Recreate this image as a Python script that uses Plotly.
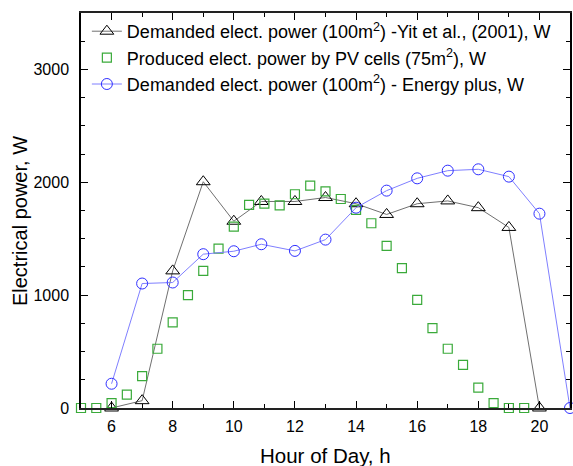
import plotly.graph_objects as go

# Demanded elect. power (Yit et al., 2001)
yit_hours = [6, 7, 8, 9, 10, 10.9, 12, 13, 14, 15, 16, 17, 18, 19, 20]
yit_power = [0, 65, 1215, 2005, 1655, 1830, 1830, 1865, 1810, 1715, 1810, 1835, 1775, 1600, 0]

# Produced elect. power by PV cells (75 m2)
pv_hours = [5, 5.5, 6, 6.5, 7, 7.5, 8, 8.5, 9, 9.5, 10, 10.5, 11, 11.5, 12, 12.5,
            13, 13.5, 14, 14.5, 15, 15.5, 16, 16.5, 17, 17.5, 18, 18.5, 19, 19.5]
pv_power = [0, 0, 44, 118, 283, 525, 758, 1000, 1215, 1413, 1607, 1799, 1811, 1796,
            1894, 1970, 1920, 1852, 1755, 1637, 1436, 1239, 958, 708, 525, 383, 180,
            44, 0, 0]

# Demanded elect. power (Energy plus)
ep_hours = [6, 7, 8, 9, 10, 10.9, 12, 13, 14, 15, 16, 17, 18, 19, 20, 21]
ep_power = [215, 1103, 1112, 1363, 1389, 1451, 1392, 1492, 1775, 1926, 2035, 2103,
            2115, 2050, 1722, 0]

x_ticks = [6, 8, 10, 12, 14, 16, 18, 20]
y_ticks = [0, 1000, 2000, 3000]

FONT = "Liberation Sans, Arial, sans-serif"

fig = go.Figure()
fig.add_trace(go.Scatter(
    x=yit_hours, y=yit_power, mode="lines+markers",
    name="Demanded elect. power (100m<sup>2</sup>) -Yit et al., (2001), W",
    line=dict(color="#707070", width=1),
    marker=dict(symbol="triangle-up-open", size=12, color="#000000",
                line=dict(color="#000000", width=1)),
    cliponaxis=False,
))
fig.add_trace(go.Scatter(
    x=pv_hours, y=pv_power, mode="markers",
    name="Produced elect. power by PV cells (75m<sup>2</sup>), W",
    marker=dict(symbol="square-open", size=9, color="#3aaa3a",
                line=dict(color="#3aaa3a", width=1.2)),
    cliponaxis=False,
))
fig.add_trace(go.Scatter(
    x=ep_hours, y=ep_power, mode="lines+markers",
    name="Demanded elect. power (100m<sup>2</sup>) - Energy plus, W",
    line=dict(color="#7f7fff", width=1),
    marker=dict(symbol="circle-open", size=11, color="#2f2fff",
                line=dict(color="#2f2fff", width=1)),
    cliponaxis=False,
))

fig.update_layout(
    width=573, height=466,
    margin=dict(l=81, r=1, t=13, b=58),
    paper_bgcolor="white", plot_bgcolor="white",
    font=dict(family=FONT, size=16, color="#000000"),
    showlegend=True,
    legend=dict(x=0.012, y=1, xanchor="left", yanchor="top",
                bgcolor="rgba(0,0,0,0)", font=dict(size=18, family=FONT),
                tracegroupgap=0, itemsizing="trace"),
    annotations=[
        dict(text="Electrical power, W", xref="paper", yref="paper",
             x=-0.125, y=0.473, xanchor="center", yanchor="middle",
             textangle=-90, showarrow=False, font=dict(size=20, family=FONT)),
        dict(text="Hour of Day, h", xref="paper", yref="paper",
             x=0.5, y=-0.119, xanchor="center", yanchor="middle",
             showarrow=False, font=dict(size=20.5, family=FONT)),
    ],
)
fig.update_xaxes(
    range=[5, 21], tickvals=x_ticks, ticktext=[str(v) for v in x_ticks],
    ticks="inside", ticklen=7, tickwidth=1.2, tickcolor="#000000",
    showline=True, linecolor="#222222", linewidth=2, mirror="ticks",
    showgrid=False, zeroline=False, ticklabelstandoff=3,
    minor=dict(dtick=1, tick0=5, ticks="inside", ticklen=4, tickwidth=1, tickcolor="#000000"),
    tickfont=dict(size=16, family=FONT),
)
fig.update_yaxes(
    range=[0, 3500], tickvals=y_ticks, ticktext=[str(v) for v in y_ticks],
    ticks="inside", ticklen=7, tickwidth=1.2, tickcolor="#000000",
    showline=True, linecolor="#000000", linewidth=1.5, mirror="ticks",
    showgrid=False, zeroline=False, ticklabelstandoff=7,
    minor=dict(dtick=250, tick0=0, ticks="inside", ticklen=4, tickwidth=1, tickcolor="#000000"),
    tickfont=dict(size=16, family=FONT),
)

fig.write_html("out.html")
